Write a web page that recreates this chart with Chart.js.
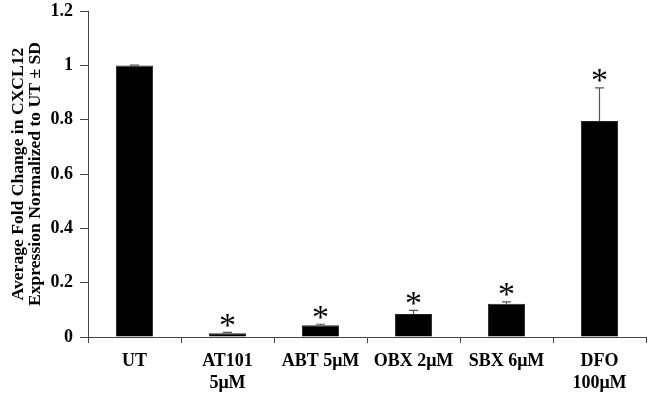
<!DOCTYPE html>
<html>
<head>
<meta charset="utf-8">
<script src="https://cdn.jsdelivr.net/npm/chart.js@4"></script>
<style>
  html, body { margin: 0; padding: 0; background: #fff; }
  #wrap { width: 650px; height: 395px; }
</style>
</head>
<body>
<div id="wrap"><canvas id="chart"></canvas></div>
<script>
const categories = [['UT'], ['AT101', '5μM'], ['ABT 5μM'], ['OBX 2μM'], ['SBX 6μM'], ['DFO', '100μM']];
const means = [1.0, 0.014, 0.043, 0.085, 0.122, 0.795];
const sds = [0.001, 0.003, 0.004, 0.013, 0.007, 0.122];
const significant = [false, true, true, true, true, true];
const yTicks = [0, 0.2, 0.4, 0.6, 0.8, 1, 1.2];

const FONT = '"Liberation Serif", "Times New Roman", serif';

// error bars + asterisks
const errorBars = {
  id: 'errorBars',
  afterDatasetsDraw(chart) {
    const ctx = chart.ctx;
    const y = chart.scales.y;
    const meta = chart.getDatasetMeta(0);
    ctx.save();
    ctx.strokeStyle = '#555';
    ctx.lineWidth = 1.2;
    meta.data.forEach((bar, i) => {
      const top = y.getPixelForValue(means[i] + sds[i]);
      const base = y.getPixelForValue(means[i]);
      ctx.beginPath();
      ctx.moveTo(bar.x, base);
      ctx.lineTo(bar.x, top);
      ctx.moveTo(bar.x - 4.5, top);
      ctx.lineTo(bar.x + 4.5, top);
      ctx.stroke();
      if (significant[i]) {
        ctx.font = '34px ' + FONT;
        ctx.fillStyle = '#000';
        ctx.textAlign = 'center';
        ctx.textBaseline = 'alphabetic';
        const m = ctx.measureText('*');
        const cy = top - 12;
        ctx.fillText('*', bar.x, cy + (m.actualBoundingBoxAscent - m.actualBoundingBoxDescent) / 2);
      }
    });
    ctx.restore();
  }
};

new Chart(document.getElementById('chart'), {
  type: 'bar',
  data: {
    labels: categories,
    datasets: [{
      data: means,
      backgroundColor: '#000',
      borderColor: '#222',
      borderWidth: 1,
      categoryPercentage: 1,
      barPercentage: 0.4
    }]
  },
  options: {
    responsive: true,
    maintainAspectRatio: false,
    animation: false,
    layout: { padding: { top: 0, right: 4, left: 0, bottom: 0 } },
    plugins: { legend: { display: false }, tooltip: { enabled: false } },
    scales: {
      x: {
        grid: { display: true, drawOnChartArea: false, offset: true, tickLength: 6, color: '#444' },
        border: { color: '#444', width: 1 },
        ticks: { color: '#000', font: { family: FONT, size: 18, weight: 'bold', lineHeight: 1.2 }, padding: 8, maxRotation: 0, autoSkip: false },
        afterFit(scale) { scale.height = 58; }
      },
      y: {
        min: 0,
        max: 1.2,
        afterBuildTicks(scale) { scale.ticks = yTicks.map(v => ({ value: v })); },
        grid: { display: true, drawOnChartArea: false, tickLength: 8, color: '#444' },
        border: { color: '#444', width: 1 },
        ticks: { color: '#000', font: { family: FONT, size: 18, weight: 'bold', lineHeight: 0.45 }, padding: 7,
          callback: v => String(Math.round(v * 10) / 10) },
        title: {
          display: true,
          text: ['Average Fold Change in CXCL12', 'Expression Normalized to UT ± SD'],
          color: '#000',
          font: { family: FONT, size: 17.6, weight: 'bold', lineHeight: 0.95 },
          padding: { top: 10, bottom: 2 }
        },
        afterFit(scale) { scale.width = 88; }
      }
    }
  },
  plugins: [errorBars]
});
</script>
</body>
</html>
